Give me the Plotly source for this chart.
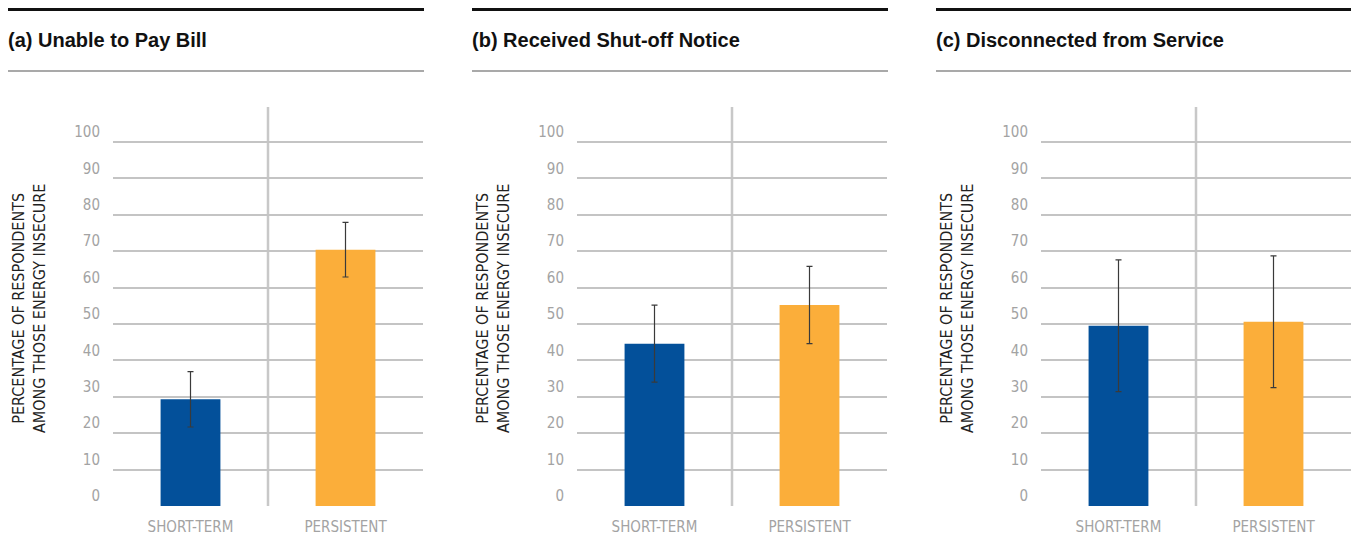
import plotly.graph_objects as go

# Data
panel_titles = ["(a) Unable to Pay Bill", "(b) Received Shut-off Notice", "(c) Disconnected from Service"]
categories = ["SHORT-TERM", "PERSISTENT"]
short_term = [29.3, 44.6, 49.5]
persistent = [70.4, 55.2, 50.6]
short_term_err = [7.6, 10.6, 18.1]
persistent_err = [7.5, 10.6, 18.1]
y_ticks = list(range(0, 101, 10))
y_title = "PERCENTAGE OF RESPONDENTS<br>AMONG THOSE ENERGY INSECURE"

BLUE = "#03509a"
ORANGE = "#fbae3a"
GRID = "#c4c4c4"
W, H = 1351, 537
COND = "Liberation Sans Narrow, DejaVu Sans Condensed, Roboto, sans-serif"

# pixel layout for each panel
plot_left = [113, 577, 1041]
plot_w = 310
header_left = [8, 472, 936]
header_w = 416
plot_top, plot_bottom = 107, 506
y_max = 109.6

fig = go.Figure()
shapes = []
annotations = []

for i in range(3):
    ax = "" if i == 0 else str(i + 1)
    x0 = plot_left[i] / W
    x1 = min((plot_left[i] + plot_w) / W, 1.0)
    fig.add_trace(go.Bar(
        x=categories,
        y=[short_term[i], persistent[i]],
        marker=dict(color=[BLUE, ORANGE], line=dict(width=0)),
        width=0.386,
        error_y=dict(type="data", array=[short_term_err[i], persistent_err[i]],
                     color="#3a3a3a", thickness=1.2, width=3),
        xaxis="x" + ax, yaxis="y" + ax,
        showlegend=False,
    ))
    fig.layout["xaxis" + ax] = dict(
        domain=[x0, x1], anchor="y" + ax, showgrid=False, zeroline=False,
        showline=False, ticks="", range=[-0.5, 1.5], automargin=False,
        tickfont=dict(family=COND, size=15, color="#a3a3a3"),
        ticklabelstandoff=10,
    )
    fig.layout["yaxis" + ax] = dict(
        domain=[1 - plot_bottom / H, 1 - plot_top / H], anchor="x" + ax,
        range=[0, y_max], tickvals=y_ticks, showgrid=True, gridcolor=GRID,
        gridwidth=1.6, zeroline=False, showline=False, ticks="", automargin=False,
        tickfont=dict(family=COND, size=15, color="#a3a3a3"),
        ticklabelshift=-10, ticklabelstandoff=12,
    )
    # divider between categories
    shapes.append(dict(type="line", xref="x" + ax, yref="y" + ax,
                       x0=0.5, x1=0.5, y0=0, y1=y_max,
                       line=dict(color="#c8c8c8", width=2.5), layer="below"))
    # header rules
    hx0 = header_left[i] / W
    hx1 = min((header_left[i] + header_w) / W, 1.0)
    shapes.append(dict(type="line", xref="paper", yref="paper",
                       x0=hx0, x1=hx1, y0=1 - 9.5 / H, y1=1 - 9.5 / H,
                       line=dict(color="#111111", width=3)))
    shapes.append(dict(type="line", xref="paper", yref="paper",
                       x0=hx0, x1=hx1, y0=1 - 71 / H, y1=1 - 71 / H,
                       line=dict(color="#555555", width=1.2)))
    annotations.append(dict(text="<b>" + panel_titles[i] + "</b>", xref="paper", yref="paper",
                            x=(header_left[i] - 2) / W, y=1 - 40 / H, xanchor="left", yanchor="middle",
                            showarrow=False,
                            font=dict(family="Liberation Sans, Arial, sans-serif", size=20, color="#111111")))
    annotations.append(dict(text=y_title, xref="paper", yref="paper",
                            x=(header_left[i] + 21) / W, y=1 - 309 / H,
                            xanchor="center", yanchor="middle", textangle=-90,
                            showarrow=False,
                            font=dict(family=COND, size=16, color="#222222")))

fig.update_layout(
    width=W, height=H, margin=dict(l=0, r=0, t=0, b=0),
    paper_bgcolor="white", plot_bgcolor="white",
    shapes=shapes, annotations=annotations,
)

fig.write_html("out.html")
